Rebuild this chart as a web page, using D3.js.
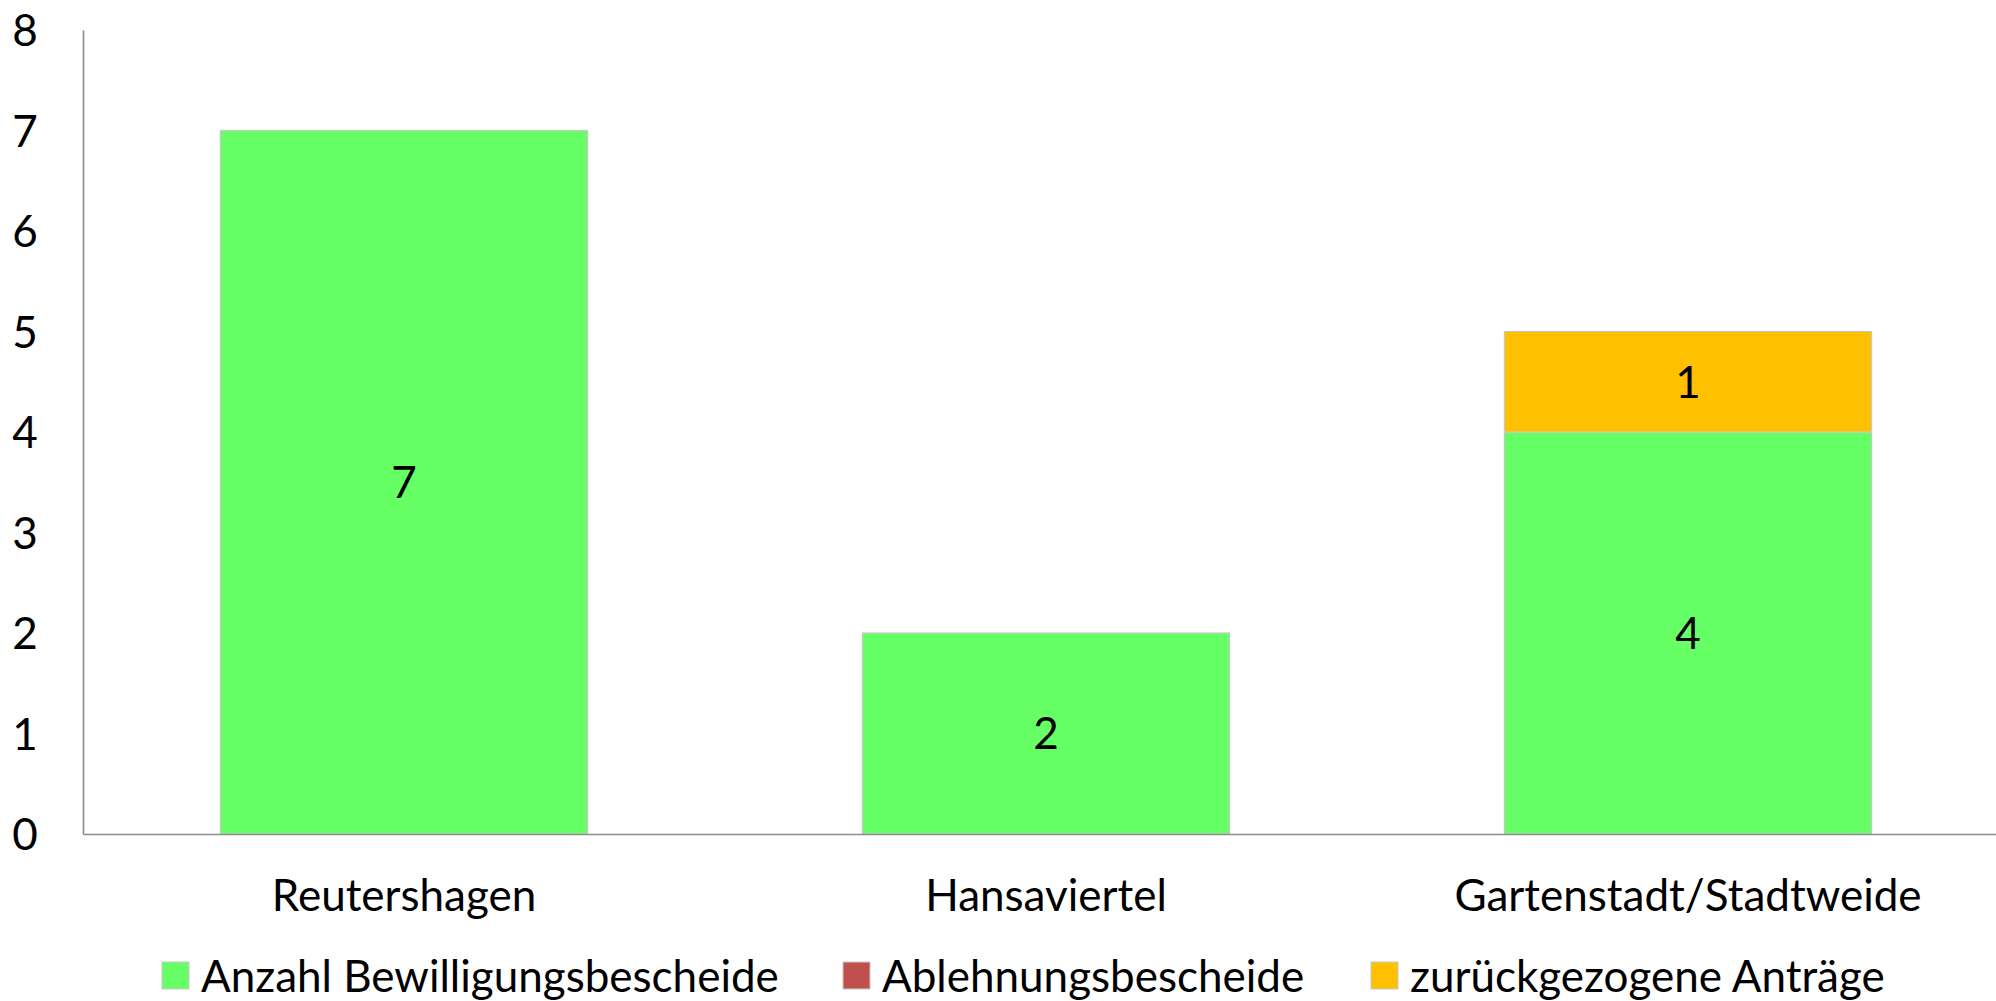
<!DOCTYPE html>
<html><head><meta charset="utf-8">
<script src="https://cdn.jsdelivr.net/npm/d3@7"></script>
<style>html,body{margin:0;padding:0;background:#fff;}svg{display:block;}</style>
</head><body>
<script>
const categories = ["Reutershagen", "Hansaviertel", "Gartenstadt/Stadtweide"];
const seriesNames = ["Anzahl Bewilligungsbescheide", "Ablehnungsbescheide", "zurückgezogene Anträge"];
const bewilligung = [7, 2, 4];
const ablehnung = [0, 0, 0];
const zurueckgezogen = [0, 0, 1];
const yTicks = [0, 1, 2, 3, 4, 5, 6, 7, 8];
const colors = ["#66FF66", "#C0504D", "#FFC000"];

const W = 1996, H = 1001;
const FONT = "Lato, 'Open Sans', sans-serif";
const FS = 44;
const svg = d3.select("body").append("svg").attr("width", W).attr("height", H);

const x = d3.scaleBand().domain(categories).range([83, 2009]).paddingInner(0.428).paddingOuter(0.214);
const y = d3.scaleLinear().domain([0, 8]).range([834, 30]);

const table = categories.map((c, i) => ({cat: c, s0: bewilligung[i], s1: ablehnung[i], s2: zurueckgezogen[i]}));
const stacked = d3.stack().keys(["s0", "s1", "s2"])(table);

// bars
stacked.forEach((layer, li) => {
  svg.append("g").selectAll("rect").data(layer.filter(d => d[1] - d[0] > 0)).join("rect")
    .attr("x", d => x(d.data.cat))
    .attr("width", x.bandwidth())
    .attr("y", d => y(d[1]))
    .attr("height", d => y(d[0]) - y(d[1]))
    .attr("fill", colors[li])
    .attr("stroke", "#c8c8c8").attr("stroke-width", 1.2);
  svg.append("g").selectAll("text").data(layer.filter(d => d[1] - d[0] > 0)).join("text")
    .attr("x", d => x(d.data.cat) + x.bandwidth() / 2)
    .attr("y", d => y((d[0] + d[1]) / 2))
    .attr("dy", "0.36em")
    .attr("text-anchor", "middle")
    .attr("font-family", FONT).attr("font-size", FS).attr("fill", "#000")
    .text(d => d[1] - d[0]);
});

// y axis
const yAxis = svg.append("g").attr("transform", "translate(83,0)")
  .call(d3.axisLeft(y).tickValues(yTicks).tickSize(0).tickPadding(0).tickFormat(d3.format("d")));
yAxis.select(".domain").attr("stroke", "#8c8c8c").attr("stroke-width", 1.6);
yAxis.selectAll("text").attr("x", -58).attr("text-anchor", "middle").attr("dy", "0.36em")
  .attr("font-family", FONT).attr("font-size", FS).attr("fill", "#000");

// x axis
const xAxis = svg.append("g").attr("transform", "translate(0,834)")
  .call(d3.axisBottom(x).tickSize(0).tickPadding(0));
xAxis.select(".domain").attr("stroke", "#8c8c8c").attr("stroke-width", 1.6);
xAxis.selectAll("text").attr("y", 61).attr("dy", "0.36em")
  .attr("font-family", FONT).attr("font-size", FS).attr("fill", "#000");

// legend
const legendX = [162, 843, 1371];
const lg = svg.append("g");
seriesNames.forEach((n, i) => {
  lg.append("rect").attr("x", legendX[i]).attr("y", 962).attr("width", 27).attr("height", 27)
    .attr("fill", colors[i]).attr("stroke", "#c8c8c8").attr("stroke-width", 1);
  lg.append("text").attr("x", legendX[i] + 39).attr("y", 976).attr("dy", "0.36em")
    .attr("font-family", FONT).attr("font-size", FS).attr("fill", "#000").text(n);
});
</script>
</body></html>
